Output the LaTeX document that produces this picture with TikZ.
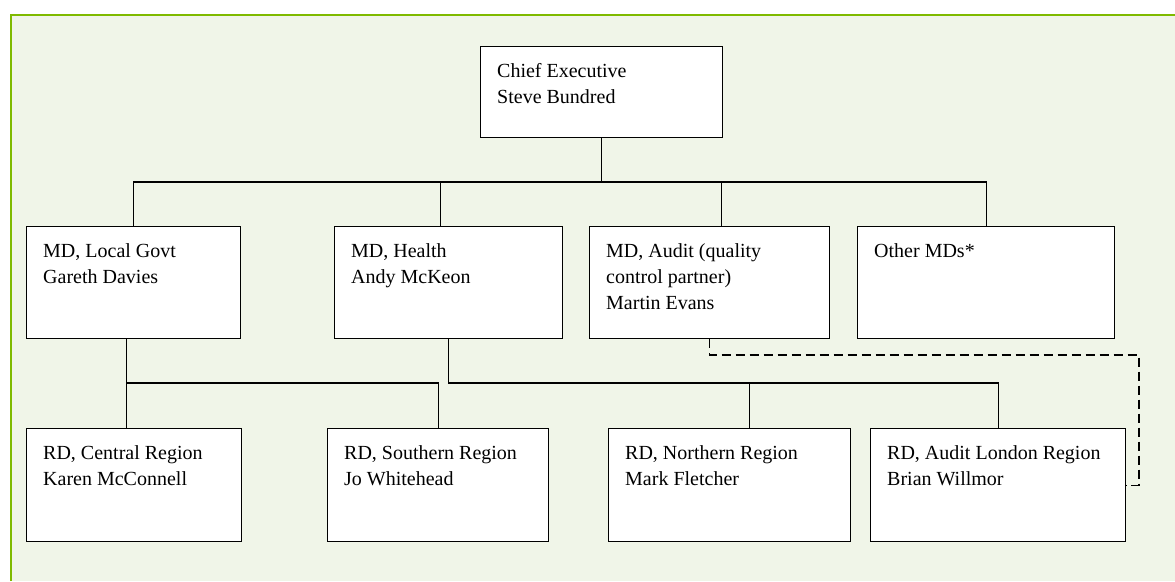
\documentclass[tikz,border=0pt]{standalone}
\usepackage{fontspec}
\setmainfont{Liberation Serif}
\definecolor{bggreen}{RGB}{240,245,232}
\definecolor{rulegreen}{RGB}{127,186,0}
\begin{document}
\begin{tikzpicture}[x=1pt,y=-1pt,
  box/.style={draw=black, fill=white, line width=1.1pt, inner sep=0pt, anchor=north west},
  txt/.style={anchor=base west, inner sep=0pt, font=\fontsize{20}{26}\selectfont},
  conn/.style={draw=black, line width=1.1pt},
  dconn/.style={conn, dash pattern=on 9pt off 5pt}]
\useasboundingbox (0,0) rectangle (1175,581);
\fill[white] (0,0) rectangle (1175,581);
\fill[bggreen] (11,15) rectangle (1175,581);
\draw[rulegreen, line width=2pt] (11,581) -- (11,15) -- (1175,15);

% boxes
\node[box, minimum width=242pt, minimum height=91pt] (chief) at (480,46) {};
\node[box, minimum width=214pt, minimum height=112pt] (lg) at (26,226) {};
\node[box, minimum width=228pt, minimum height=112pt] (health) at (334,226) {};
\node[box, minimum width=240pt, minimum height=112pt] (audit) at (589,226) {};
\node[box, minimum width=257pt, minimum height=112pt] (other) at (857,226) {};
\node[box, minimum width=215pt, minimum height=113pt] (central) at (26,428) {};
\node[box, minimum width=221pt, minimum height=113pt] (southern) at (327,428) {};
\node[box, minimum width=242pt, minimum height=113pt] (northern) at (608,428) {};
\node[box, minimum width=255pt, minimum height=113pt] (london) at (870,428) {};

% texts
\node[txt] (chiefT) at ([shift={(17pt,-31pt)}]chief.north west) {\vtop{\hbox{Chief Executive}\hbox{Steve Bundred}}};
\node[txt] (lgT) at ([shift={(17pt,-31pt)}]lg.north west) {\vtop{\hbox{MD, Local Govt}\hbox{Gareth Davies}}};
\node[txt] (healthT) at ([shift={(17pt,-31pt)}]health.north west) {\vtop{\hbox{MD, Health}\hbox{Andy McKeon}}};
\node[txt] (auditT) at ([shift={(17pt,-31pt)}]audit.north west) {\vtop{\hbox{MD, Audit (quality}\hbox{control partner)}\hbox{Martin Evans}}};
\node[txt] (otherT) at ([shift={(17pt,-31pt)}]other.north west) {\vtop{\hbox{Other MDs*}}};
\node[txt] (centralT) at ([shift={(17pt,-31pt)}]central.north west) {\vtop{\hbox{RD, Central Region}\hbox{Karen McConnell}}};
\node[txt] (southernT) at ([shift={(17pt,-31pt)}]southern.north west) {\vtop{\hbox{RD, Southern Region}\hbox{Jo Whitehead}}};
\node[txt] (northernT) at ([shift={(17pt,-31pt)}]northern.north west) {\vtop{\hbox{RD, Northern Region}\hbox{Mark Fletcher}}};
\node[txt] (londonT) at ([shift={(17pt,-31pt)}]london.north west) {\vtop{\hbox{RD, Audit London Region}\hbox{Brian Willmor}}};

% upper connectors
\coordinate (busA) at (0,182);
\draw[conn] (chief.south) -- (chief.south |- busA);
\draw[conn] (lg.north) -- (lg.north |- busA) -| (other.north);
\draw[conn] ([xshift=-8pt]health.north) -- ([xshift=-8pt]health.north |- busA);
\draw[conn] ([xshift=12pt]audit.north) -- ([xshift=12pt]audit.north |- busA);

% lower connectors
\coordinate (busB) at (0,383);
\draw[conn] ([xshift=-7pt]lg.south) -- ([xshift=-7pt]lg.south |- central.north);
\draw[conn] ([xshift=-7pt]lg.south |- busB) -| (southern.north);
\draw[conn] (health.south) -- (health.south |- busB) -| (london.north);
\draw[conn] ([xshift=20pt]northern.north) -- ([xshift=20pt]northern.north |- busB);

% dashed connector
\coordinate (dashR) at (1139,355);
\draw[dconn] (audit.south) -- (audit.south |- dashR) -| (dashR |- london.east) -- (london.east);
\end{tikzpicture}
\end{document}
